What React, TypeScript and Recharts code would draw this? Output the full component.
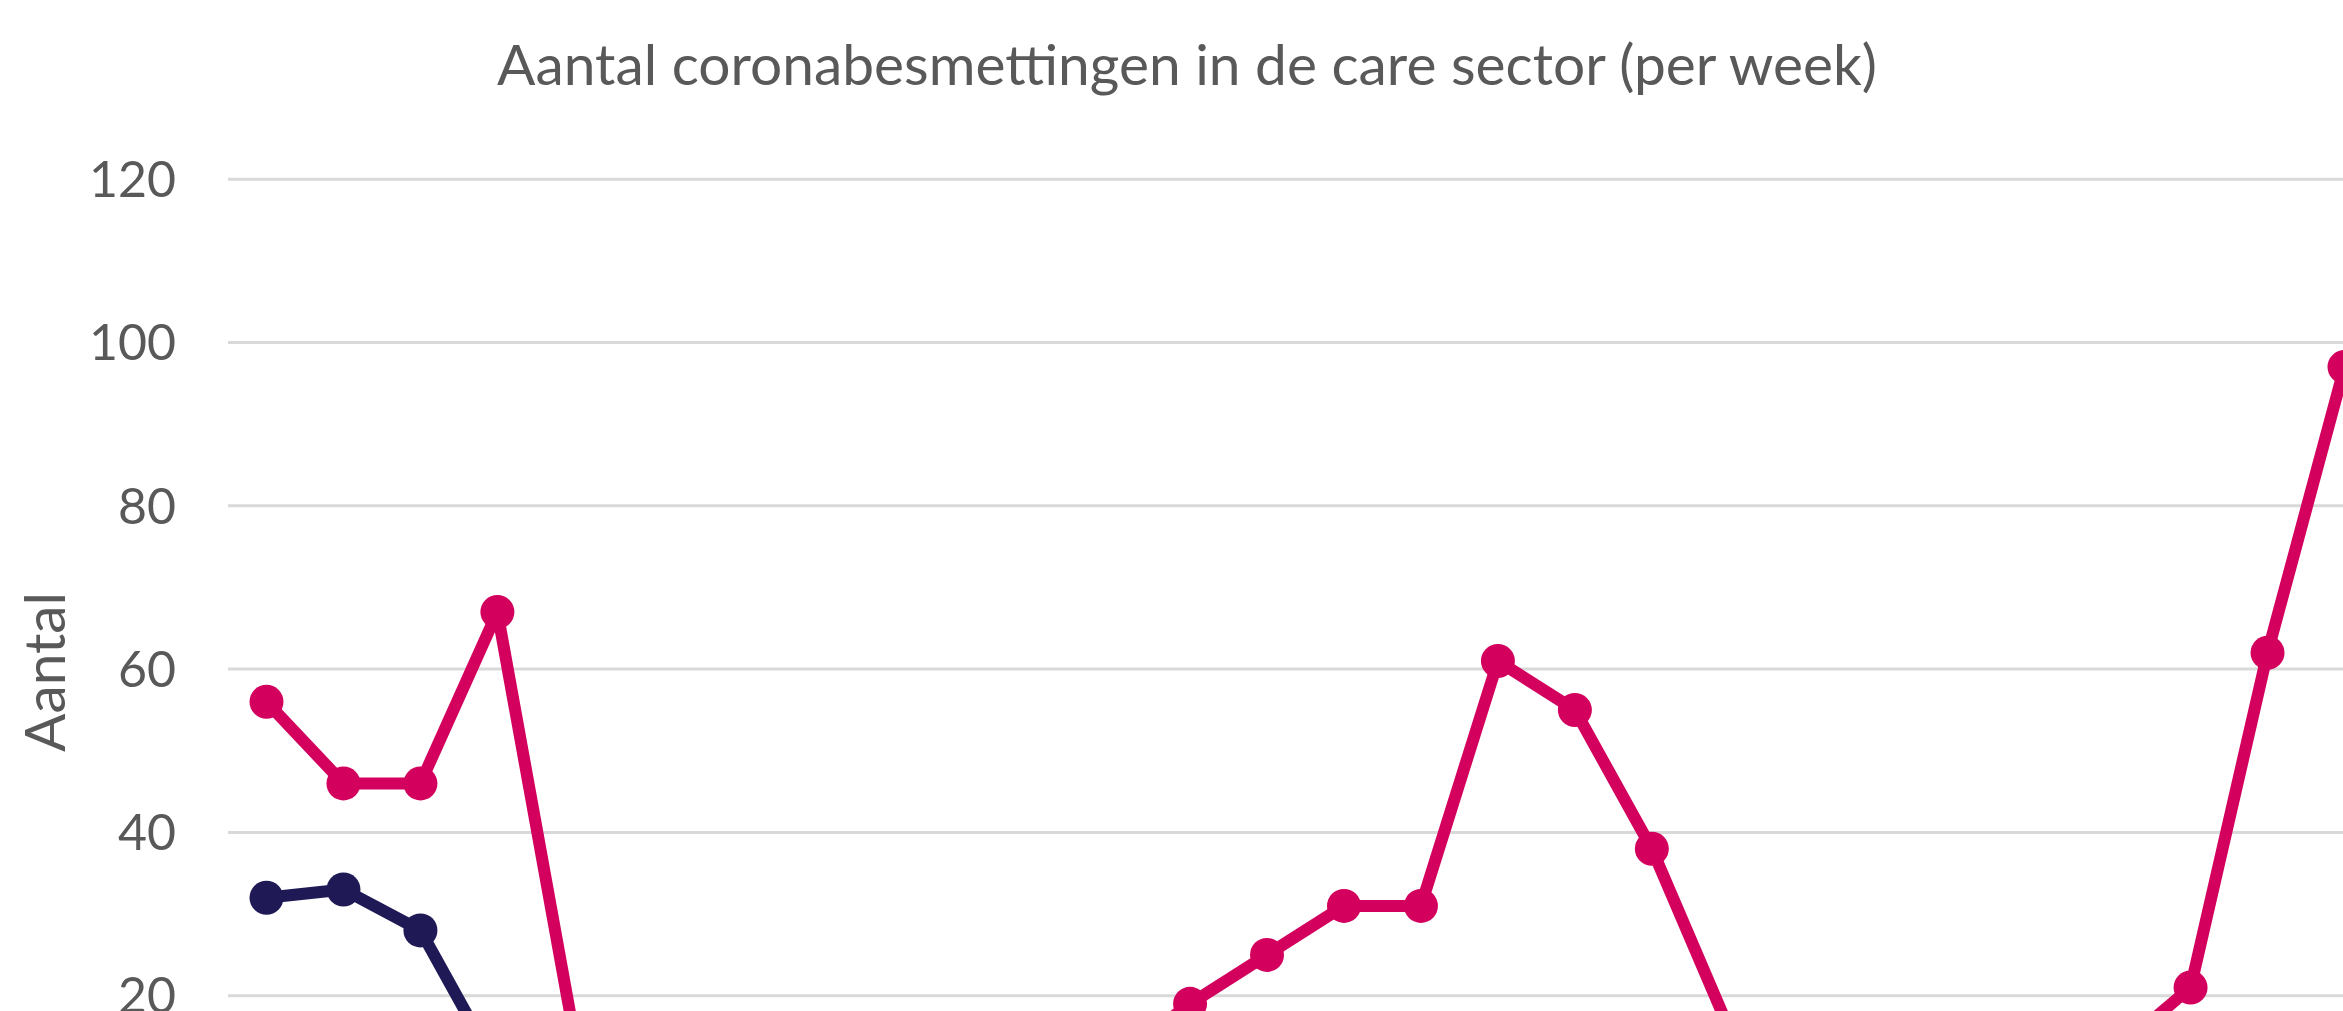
import React from 'react';
import { LineChart, Line, XAxis, YAxis, CartesianGrid } from 'recharts';

// weeks along the x axis (the labels sit below the visible area)
const weeks = [
  'wk 1', 'wk 2', 'wk 3', 'wk 4', 'wk 5', 'wk 6', 'wk 7', 'wk 8', 'wk 9', 'wk 10',
  'wk 11', 'wk 12', 'wk 13', 'wk 14', 'wk 15', 'wk 16', 'wk 17', 'wk 18', 'wk 19', 'wk 20',
  'wk 21', 'wk 22', 'wk 23', 'wk 24', 'wk 25', 'wk 26', 'wk 27', 'wk 28',
];

// pink series
const medewerkers = [56, 46, 46, 67, 15, 8, 4, 2, 2, 3, 6, 12, 19, 25, 31, 31, 61, 55, 38, 16, 9, 6, 5, 8, 13, 21, 62, 97];
// dark blue series
const clienten = [32, 33, 28, 11, 6, 3, 2, 1, 1, 1, 2, 3, 4, 6, 8, 9, 10, 8, 5, 3, 2, 2, 3, 5, 6, 8, 10, 13];

// the 0 line lies below the cropped view
const yTicks = [20, 40, 60, 80, 100, 120];

const PINK = '#D3005E';
const NAVY = '#1F1956';
const TEXT = '#595959';
const FONT = "Lato, 'Open Sans', sans-serif";

const data = weeks.map((w, i) => ({ week: w, medewerkers: medewerkers[i], clienten: clienten[i] }));

const App: React.FC = () => {
  return (
    <div style={{ position: 'fixed', top: 0, left: 0, width: 2343, height: 1011, overflow: 'hidden', background: '#fff' }}>
      <LineChart
        width={2403}
        height={1250}
        data={data}
        margin={{ top: 179.2, right: 20, left: 0, bottom: 0 }}
      >
        <CartesianGrid vertical={false} stroke="#D9D9D9" strokeWidth={3} />
        {/* week labels fall below the cropped view, so none are drawn */}
        <XAxis
          dataKey="week"
          height={91}
          padding={{ left: 38.5, right: 38.5 }}
          axisLine={false}
          tickLine={false}
          tick={false}
        />
        <YAxis
          width={228}
          domain={[0, 120]}
          ticks={yTicks}
          axisLine={false}
          tickLine={false}
          tickSize={0}
          tickMargin={52}
          tick={{ fill: TEXT, fontSize: 50, fontFamily: FONT }}
        />
        <Line
          type="linear"
          dataKey="clienten"
          stroke={NAVY}
          strokeWidth={12}
          strokeLinejoin="round"
          dot={{ r: 17, fill: NAVY, stroke: NAVY, strokeWidth: 0 }}
          activeDot={false}
          isAnimationActive={false}
        />
        <Line
          type="linear"
          dataKey="medewerkers"
          stroke={PINK}
          strokeWidth={12}
          strokeLinejoin="round"
          dot={{ r: 17, fill: PINK, stroke: PINK, strokeWidth: 0 }}
          activeDot={false}
          isAnimationActive={false}
        />
      </LineChart>
      <svg width={2343} height={1011} style={{ position: 'absolute', top: 0, left: 0, pointerEvents: 'none' }}>
        <text
          x={1187}
          y={85}
          textAnchor="middle"
          fontFamily={FONT}
          fontSize={56}
          fill={TEXT}
          textLength={1380}
          lengthAdjust="spacingAndGlyphs"
        >
          Aantal coronabesmettingen in de care sector (per week)
        </text>
        <text
          transform="translate(65,672) rotate(-90)"
          textAnchor="middle"
          fontFamily={FONT}
          fontSize={57}
          fill={TEXT}
          textLength={160}
          lengthAdjust="spacingAndGlyphs"
        >
          Aantal
        </text>
      </svg>
    </div>
  );
};

export default App;
